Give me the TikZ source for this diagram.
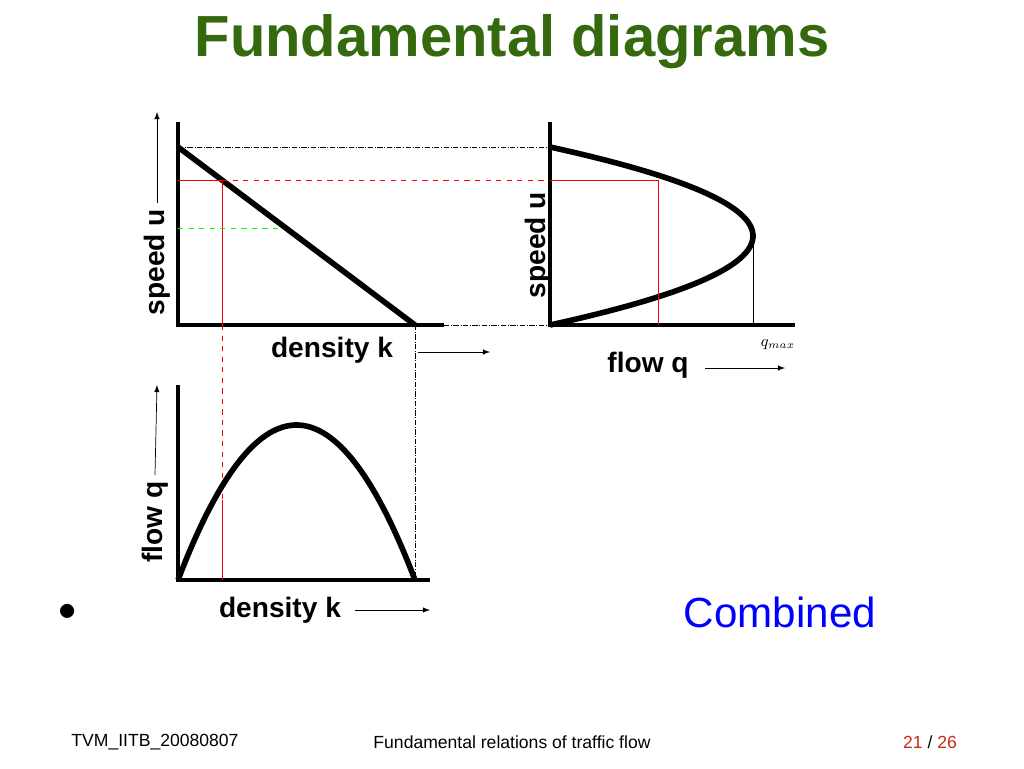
\documentclass[tikz,border=0pt]{standalone}
\usepackage{fontspec}
\setmainfont{Liberation Sans}
\usetikzlibrary{positioning,arrows}
\definecolor{titlegreen}{RGB}{52,105,14}
\definecolor{footred}{RGB}{200,40,20}
\tikzstyle{axis} = [line width=2.2pt]
\tikzstyle{curve} = [line width=3.2pt]
\tikzstyle{guide} = [densely dash dot, thin]
\tikzstyle{arrow} = [thin,->,>=latex]
\tikzstyle{lbl} = [font=\bfseries\fontsize{16}{18}\selectfont]
\begin{document}
\begin{tikzpicture}[x=0.02cm,y=-0.02cm]
\useasboundingbox (0,0) rectangle (1024,768);
\node[font=\bfseries\fontsize{33}{38}\selectfont,text=titlegreen] (title) at (512,42) {Fundamental diagrams};
% speed - density
\coordinate (o1) at (178,325);
\draw[axis] (178,122) -- (o1) -- (444,325);
\draw[curve] (178,147) -- (415,325);
\draw[red] (178,180) -- (222,180) -- (222,325);
\draw[red,dashed] (222,180) -- (550,180);
\draw[red,dashed] (222,325) -- (222,500);
\draw[green,dashed] (178,228) -- (282,228);
\draw[guide] (178,147) -- (550,147);
\draw[guide] (444,325) -- (550,325);
\draw[guide] (415,325) -- (415,580);
\node[lbl,rotate=90] (su1) at (157,262) {speed u};
\draw[arrow] (su1.east) -- (157,112);
\node[lbl] (dk1) at (332,350) {density k};
\draw[arrow] (418,352) -- (490,352);
% speed - flow
\coordinate (o2) at (550,325);
\draw[axis] (550,122) -- (o2) -- (795,325);
\draw[curve] plot[domain=0:1,samples=60,smooth] ({550+812*\x*(1-\x)},{325-178*\x});
\draw[red] (550,180) -- (658,180) -- (658,325);
\draw (753,232) -- (753,325);
\node[lbl,rotate=90] (su2) at (538,245) {speed u};
\node[lbl] (fq1) at (648,365) {flow q};
\draw[arrow] (705,368) -- (785,368);
\node (qmax) at (778,345) {\fontsize{9}{10}\selectfont$q_{max}$};
% flow - density
\coordinate (o3) at (178,580);
\draw[axis] (178,385) -- (o3) -- (430,580);
\draw[curve] plot[domain=0:1,samples=60,smooth] ({178+237*\x},{580-620*\x*(1-\x)});
\draw[red] (222,500) -- (222,580);
\node[lbl,rotate=90] (fq2) at (155,522) {flow q};
\draw[arrow] (fq2.east) -- (157,385);
\node[lbl] (dk2) at (280,610) {density k};
\draw[arrow] (355,610) -- (430,610);
% text
\node[font=\fontsize{22}{24}\selectfont] (bul) at (68,612) {$\bullet$};
\node[font=\fontsize{24}{28}\selectfont,text=blue] (comb) at (780,612) {Combined};
\node[font=\fontsize{10}{12}\selectfont] (f1) at (155,742) {TVM\_IITB\_20080807};
\node[font=\fontsize{10}{12}\selectfont] (f2) at (512,742) {Fundamental relations of traffic flow};
\node[font=\fontsize{10}{12}\selectfont] (f3) at (930,742) {\textcolor{footred}{21} / \textcolor{footred}{26}};
\end{tikzpicture}
\end{document}
